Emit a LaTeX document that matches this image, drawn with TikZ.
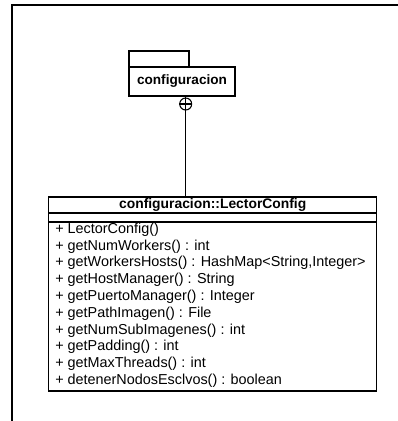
\documentclass[tikz,border=0pt]{standalone}
\usepackage{fontspec}
\setmainfont{Liberation Sans}
\usetikzlibrary{positioning}

\begin{document}
\begin{tikzpicture}[x=0.75pt,y=-0.75pt,
        umlbox/.style={draw,line width=0.9pt,inner sep=0pt,outer sep=0pt,anchor=north west},
        opstext/.style={anchor=north west,align=left,inner sep=0pt,font=\fontsize{10.8}{12.6}\selectfont}]
        \useasboundingbox (0,0) rectangle (398,421);
        \draw[line width=1pt] (12,421) -- (12,5) -- (398,5);

        % package configuracion
        \node[umlbox,minimum width=45pt,minimum height=12pt] at (129,51) (pkg-tab) {};
        \node[umlbox,minimum width=79.5pt,minimum height=21.75pt] at (129,67) (pkg-body) {};
        \node at (pkg-body.center) (pkg-name) {\fontsize{10.2}{12}\selectfont\textbf{configuracion}};

        % nested class LectorConfig
        \node[umlbox,minimum width=246pt,minimum height=12pt] at (48.7,197) (cls-name) {};
        \node at (cls-name.center) {\fontsize{10.4}{12}\selectfont\textbf{configuracion::LectorConfig}};
        \node[umlbox,minimum width=246pt,minimum height=6.75pt] at (48.7,213) (cls-attrs) {};
        \node[umlbox,minimum width=246pt,minimum height=126.75pt] at (48.7,222) (cls-ops) {};
        \node[opstext] at (55,222.5) (ops-list) {+ LectorConfig()\\
                + getNumWorkers() : int\\
                + getWorkersHosts() : HashMap<String,Integer>\\
                + getHostManager() : String\\
                + getPuertoManager() : Integer\\
                + getPathImagen() : File\\
                + getNumSubImagenes() : int\\
                + getPadding() : int\\
                + getMaxThreads() : int\\
                + detenerNodosEsclvos() : boolean};

        % nesting connector
        \node[draw,circle,line width=0.8pt,minimum size=9pt,inner sep=0pt] at (185.7,104) (nest) {};
        \draw[line width=0.8pt] (nest.north) -- (nest.south) (nest.west) -- (nest.east);
        \draw[line width=0.9pt] (nest.south) -- (nest.south |- cls-name.north);
    \end{tikzpicture}
\end{document}
